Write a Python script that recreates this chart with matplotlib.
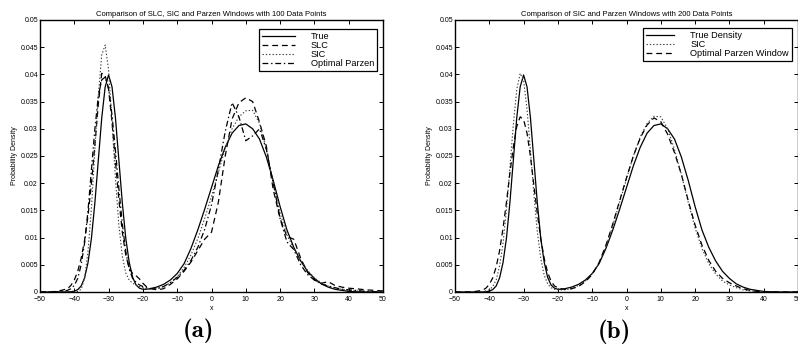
import matplotlib
matplotlib.use("Agg")
import matplotlib.pyplot as plt
from matplotlib.ticker import FuncFormatter, MultipleLocator

plt.rcParams['font.family'] = ['Liberation Sans', 'DejaVu Sans']
plt.rcParams['lines.scale_dashes'] = False

# shared x grid
X = [-50, -45, -42, -41, -40, -39, -38, -37, -36, -35, -34, -33, -32, -31, -30,
     -29, -28, -27, -26, -25, -24, -23, -22, -21, -20, -19, -18, -16, -14, -12,
     -10, -8, -6, -4, -2, 0, 2, 4, 6, 8, 10, 12, 14, 16, 18, 20, 22, 24, 26, 28,
     30, 32, 34, 36, 38, 40, 42, 45, 50]

TRUE = [0, 0, 0.00001, 0.00005, 0.00015, 0.00044, 0.0011, 0.0026, 0.0054, 0.0099,
        0.0164, 0.0242, 0.0320, 0.0377, 0.0399, 0.0377, 0.0320, 0.0242, 0.0164, 0.0099,
        0.0055, 0.0027, 0.0013, 0.0007, 0.0005, 0.0005, 0.0006, 0.0009, 0.0014, 0.0022,
        0.0034, 0.0052, 0.0080, 0.0114, 0.0152, 0.0192, 0.0232, 0.0266, 0.0292, 0.0306,
        0.0309, 0.0300, 0.0281, 0.0248, 0.0205, 0.0157, 0.0114, 0.0082, 0.0057, 0.0038,
        0.0025, 0.0015, 0.0009, 0.0005, 0.0003, 0.0001, 0.00005, 0, 0]

SLC_A = [0, 0.0001, 0.0006, 0.0012, 0.0022, 0.0038, 0.0062, 0.0095, 0.0140, 0.0200,
         0.0270, 0.0345, 0.0402, 0.0398, 0.0372, 0.0312, 0.0240, 0.0170, 0.0110, 0.0068,
         0.0044, 0.0034, 0.0030, 0.0024, 0.0016, 0.0010, 0.0007, 0.0004, 0.0006, 0.0014,
         0.0024, 0.0038, 0.0055, 0.0076, 0.0097, 0.0110, 0.0165, 0.0250, 0.0318, 0.0348,
         0.0357, 0.0350, 0.0312, 0.0268, 0.0188, 0.0135, 0.0102, 0.0097, 0.0062, 0.0036,
         0.0022, 0.0016, 0.0019, 0.0012, 0.0009, 0.0007, 0.0006, 0.0004, 0.0002]

SIC_A = [0, 0, 0, 0, 0, 0.0001, 0.0005, 0.0025, 0.0075, 0.0155,
         0.0262, 0.0362, 0.0436, 0.0454, 0.0408, 0.0312, 0.0208, 0.0122, 0.0066, 0.0035,
         0.0022, 0.0016, 0.0013, 0.0010, 0.0008, 0.0006, 0.0005, 0.0006, 0.0010, 0.0017,
         0.0028, 0.0045, 0.0068, 0.0098, 0.0135, 0.0175, 0.0220, 0.0264, 0.0300, 0.0322,
         0.0333, 0.0334, 0.0310, 0.0262, 0.0200, 0.0145, 0.0105, 0.0079, 0.0058, 0.0040,
         0.0026, 0.0017, 0.0011, 0.0007, 0.0005, 0.0003, 0.0002, 0.0001, 0]

PARZEN_A = [0, 0.00005, 0.0003, 0.0006, 0.0012, 0.0025, 0.0050, 0.0090, 0.0150, 0.0225,
            0.0300, 0.0360, 0.0390, 0.0395, 0.0375, 0.0325, 0.0260, 0.0190, 0.0125, 0.0075,
            0.0042, 0.0025, 0.0018, 0.0013, 0.0010, 0.0008, 0.0006, 0.0006, 0.0010, 0.0017,
            0.0027, 0.0040, 0.0058, 0.0082, 0.0115, 0.0160, 0.0225, 0.0295, 0.0348, 0.0322,
            0.0278, 0.0287, 0.0300, 0.0262, 0.0200, 0.0135, 0.0092, 0.0078, 0.0050, 0.0032,
            0.0022, 0.0015, 0.0011, 0.0008, 0.0005, 0.0004, 0.0003, 0.0001, 0]

SIC_B = [0, 0, 0.00005, 0.0002, 0.0004, 0.0010, 0.0022, 0.0048, 0.0089, 0.0151,
         0.0228, 0.0307, 0.0372, 0.0402, 0.0389, 0.0336, 0.0260, 0.0180, 0.0111, 0.0062,
         0.0031, 0.0015, 0.0008, 0.0005, 0.0004, 0.0004, 0.0004, 0.0006, 0.0012, 0.0020,
         0.0033, 0.0053, 0.0083, 0.0122, 0.0165, 0.0208, 0.0250, 0.0285, 0.0310, 0.0323,
         0.0322, 0.0300, 0.0262, 0.0216, 0.0165, 0.0118, 0.0080, 0.0052, 0.0033, 0.0020,
         0.0013, 0.0008, 0.0004, 0.0002, 0.0001, 0, 0, 0, 0]

PARZEN_B = [0, 0.00002, 0.0003, 0.0007, 0.0014, 0.0026, 0.0046, 0.0076, 0.0117, 0.0165,
            0.0218, 0.0266, 0.0304, 0.0322, 0.0317, 0.0292, 0.0249, 0.0196, 0.0144, 0.0098,
            0.0062, 0.0036, 0.0020, 0.0011, 0.0008, 0.0006, 0.0005, 0.0006, 0.0010, 0.0019,
            0.0032, 0.0054, 0.0086, 0.0125, 0.0168, 0.0210, 0.0250, 0.0283, 0.0307, 0.0320,
            0.0313, 0.0290, 0.0256, 0.0216, 0.0168, 0.0123, 0.0086, 0.0058, 0.0038, 0.0025,
            0.0017, 0.0011, 0.0006, 0.0003, 0.0001, 0, 0, 0, 0]

TITLE_A = "Comparison of SLC, SIC and Parzen Windows with 100 Data Points"
TITLE_B = "Comparison of SIC and Parzen Windows with 200 Data Points"
LABELS_A = ["True", "SLC", "SIC", "Optimal Parzen"]
LABELS_B = ["True Density", "SIC", "Optimal Parzen Window"]

W, H = 798, 349
fig = plt.figure(figsize=(W / 100, H / 100), dpi=100)

def px_axes(l, r, t, b):
    return [l / W, 1 - b / H, (r - l) / W, (b - t) / H]

axA = fig.add_axes(px_axes(40, 383, 20, 292))
axB = fig.add_axes(px_axes(455, 798, 20, 292))

SOLID = dict(color='black', lw=0.9, linestyle='-')
DASH = dict(color='black', lw=0.9, linestyle=(0, (4.2, 2.8)))
DOT = dict(color='0.25', lw=0.8, linestyle=(0, (1.0, 1.4)))
DASHDOT = dict(color='black', lw=0.9, linestyle=(0, (4.2, 2.0, 1.0, 2.0)))

axA.plot(X, TRUE, label=LABELS_A[0], **SOLID)
axA.plot(X, SLC_A, label=LABELS_A[1], **DASH)
axA.plot(X, SIC_A, label=LABELS_A[2], **DOT)
axA.plot(X, PARZEN_A, label=LABELS_A[3], **DASHDOT)

axB.plot(X, TRUE, label=LABELS_B[0], **SOLID)
axB.plot(X, SIC_B, label=LABELS_B[1], **DOT)
axB.plot(X, PARZEN_B, label=LABELS_B[2], **DASH)

fmt = FuncFormatter(lambda v, p: ('%g' % round(v, 4)))
for ax, title in ((axA, TITLE_A), (axB, TITLE_B)):
    ax.set_xlim(-50, 50)
    ax.set_ylim(0, 0.05)
    ax.xaxis.set_major_locator(MultipleLocator(10))
    ax.yaxis.set_major_locator(MultipleLocator(0.005))
    ax.yaxis.set_major_formatter(fmt)
    ax.tick_params(direction='in', top=True, right=True, length=3, width=0.7,
                   labelsize=5)
    ax.tick_params(axis='x', pad=3)
    ax.tick_params(axis='y', pad=1.5)
    for s in ax.spines.values():
        s.set_linewidth(1.0)
    ax.set_title(title, fontsize=5.5, pad=3)
    ax.set_xlabel('x', fontsize=5, labelpad=1)
    ax.set_ylabel('Probability Density', fontsize=5, labelpad=2)

legA = axA.legend(loc='upper right', bbox_to_anchor=(0.983, 0.968), fontsize=6.6,
                  frameon=True, fancybox=False, edgecolor='black', framealpha=1,
                  handlelength=3.6, handletextpad=1.7, labelspacing=0.0,
                  borderpad=0.35, borderaxespad=0)
legA.get_frame().set_linewidth(0.9)
legB = axB.legend(loc='upper right', bbox_to_anchor=(0.983, 0.972), fontsize=6.6,
                  frameon=True, fancybox=False, edgecolor='black', framealpha=1,
                  handlelength=3.0, handletextpad=1.8, labelspacing=0.0,
                  borderpad=0.35, borderaxespad=0)
legB.get_frame().set_linewidth(0.9)

fig.text(198 / W, 1 - 331 / H, '(a)', family='cmb10', fontsize=18,
         ha='center', va='center')
fig.text(614 / W, 1 - 332 / H, '(b)', family='cmb10', fontsize=18,
         ha='center', va='center')

fig.savefig('out.png', dpi=100)
